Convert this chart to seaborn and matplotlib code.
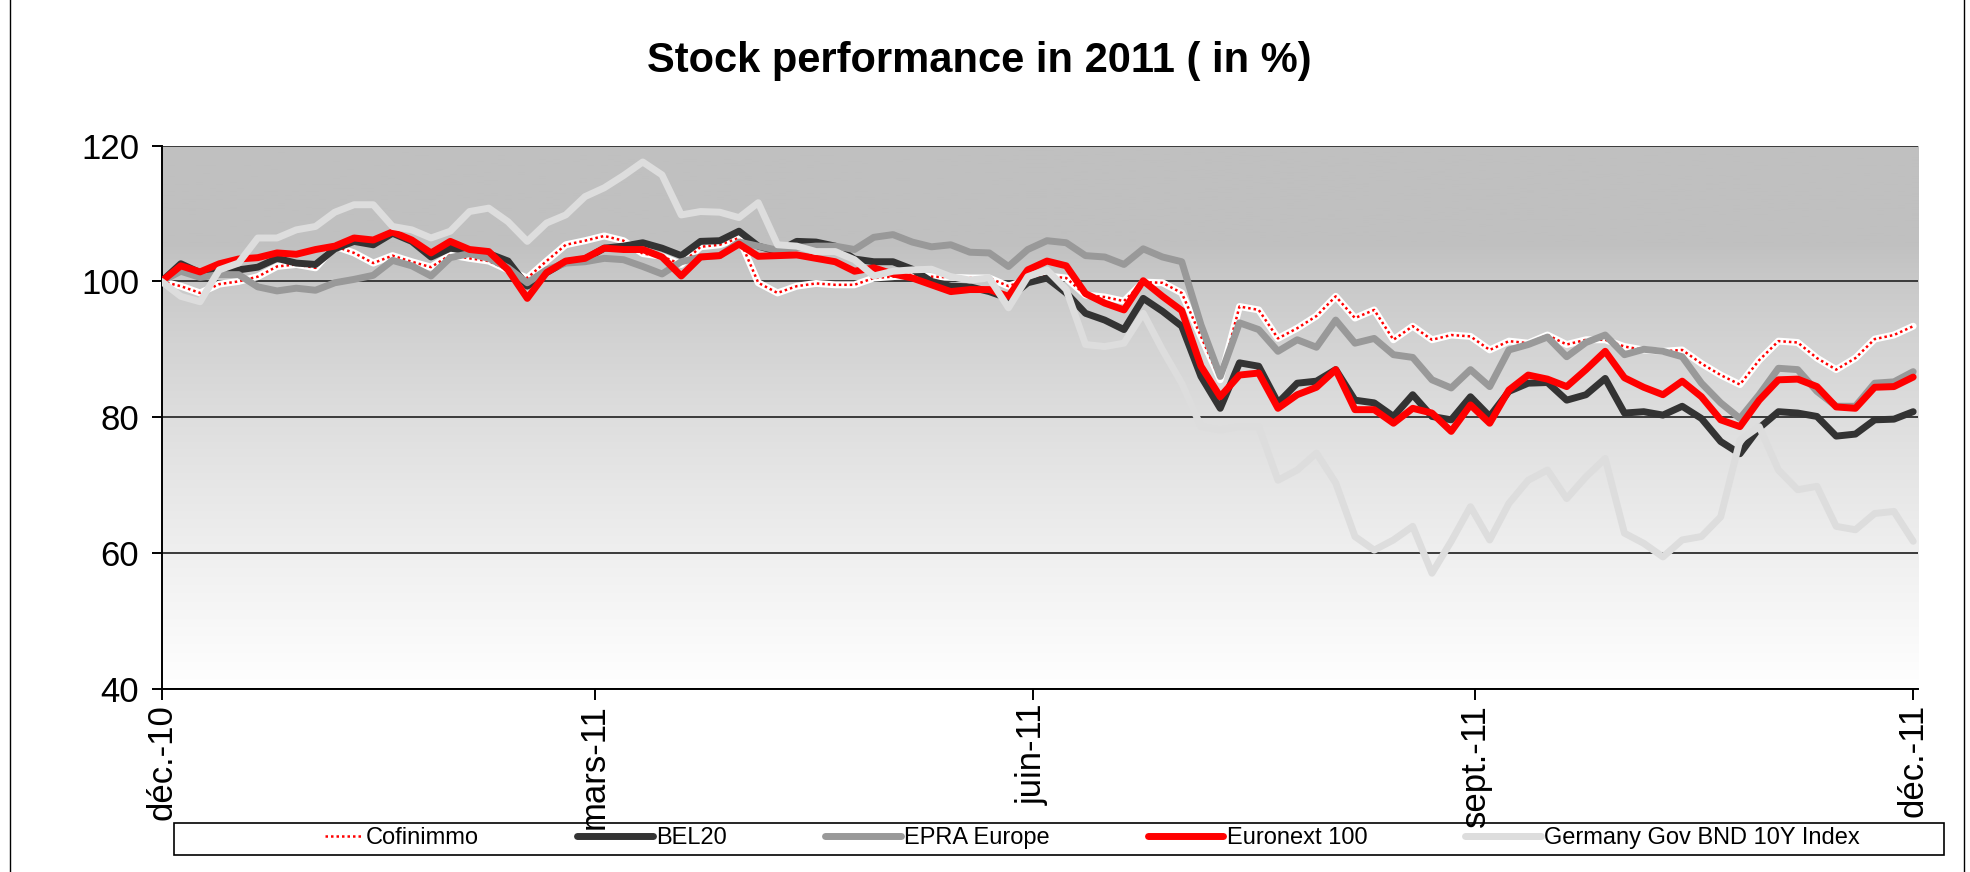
import matplotlib
matplotlib.use("Agg")
import numpy as np
import pandas as pd
import matplotlib.pyplot as plt
from matplotlib.lines import Line2D
from matplotlib.patches import Rectangle
from matplotlib.legend_handler import HandlerTuple
import seaborn as sns

# ─── DATA (one point every 4 days from 31/12/2010) ───────────────────────────
START = "2010-12-31"
STEP = "4D"

cofinimmo = [100, 99.3, 98.3, 99.6, 100.0, 100.7, 102.2, 102.5, 102.0, 105.2, 104.2, 102.7, 103.8, 102.9, 102.1, 103.9,
             103.4, 103.0, 101.7, 100.5, 103.0, 105.4, 106.0, 106.7, 106.0, 104.1, 103.7, 102.5, 105.1, 105.4, 106.4,
             99.8, 98.3, 99.3, 99.7, 99.5, 99.5, 100.5, 100.7, 101.0, 100.7, 100.6, 100.5, 100.5, 99.3, 100.3,
             100.8, 100.5, 98.0, 97.7, 97.1, 99.9, 99.8, 98.3, 91.9, 85.5, 96.3, 95.8, 91.6, 93.1, 94.9, 97.8,
             94.6, 95.8, 91.4, 93.4, 91.4, 92.1, 91.9, 89.9, 91.2, 90.9, 92.1, 90.7, 91.4, 91.4, 90.4,
             89.9, 89.7, 89.9, 87.9, 86.2, 84.8, 88.4, 91.2, 91.0, 88.7, 87.0, 88.7, 91.5, 92.1, 93.4]

bel20 = [100, 102.6, 101.3, 101.5, 101.7, 102.1, 103.4, 102.7, 102.5, 104.8, 105.9, 105.4, 107.1, 105.9, 103.6, 104.9,
         104.5, 104.1, 103.0, 99.3, 101.3, 102.9, 103.3, 104.9, 105.2, 105.7, 104.9, 103.8, 105.9, 106.0, 107.4,
         105.2, 104.4, 105.9, 105.8, 105.2, 103.3, 102.9, 102.9, 101.8, 100.0, 99.3, 99.2, 98.5, 97.5, 99.8,
         100.5, 98.3, 95.3, 94.3, 92.9, 97.5, 95.6, 93.4, 86.0, 81.3, 88.0, 87.5, 82.1, 85.0, 85.3, 87.0,
         82.5, 82.1, 80.1, 83.3, 80.1, 79.6, 83.0, 80.1, 83.8, 85.0, 85.1, 82.5, 83.3, 85.7, 80.6,
         80.8, 80.3, 81.6, 79.8, 76.4, 74.6, 78.4, 80.8, 80.6, 80.1, 77.2, 77.5, 79.6, 79.7, 80.8]

epra = [100, 101.5, 100.6, 101.0, 101.0, 99.2, 98.6, 99.0, 98.7, 99.8, 100.3, 100.9, 103.1, 102.3, 100.8, 103.5,
        104.1, 103.4, 102.0, 99.8, 101.7, 102.7, 102.9, 103.4, 103.2, 102.2, 101.1, 102.9, 103.6, 103.8, 105.8,
        105.2, 104.6, 105.0, 105.2, 105.2, 104.7, 106.5, 106.9, 105.8, 105.1, 105.4, 104.3, 104.2, 102.2, 104.7,
        106.0, 105.7, 103.8, 103.6, 102.5, 104.8, 103.6, 102.9, 93.6, 86.0, 93.9, 92.9, 89.7, 91.4, 90.3, 94.3,
        90.9, 91.6, 89.2, 88.8, 85.5, 84.3, 87.0, 84.5, 89.9, 90.7, 91.8, 88.9, 91.0, 92.1, 89.2,
        90.0, 89.7, 88.9, 85.0, 82.1, 79.8, 83.3, 87.2, 87.0, 83.8, 81.6, 81.6, 85.0, 85.2, 86.7]

euronext = [100, 102.3, 101.4, 102.6, 103.3, 103.5, 104.2, 104.0, 104.7, 105.2, 106.4, 106.1, 107.3, 106.1, 104.2, 105.9,
            104.7, 104.4, 101.7, 97.5, 101.3, 103.0, 103.4, 104.9, 104.7, 104.7, 103.6, 100.8, 103.6, 103.8, 105.5,
            103.7, 103.8, 103.9, 103.4, 102.9, 101.5, 102.0, 101.1, 100.5, 99.5, 98.5, 98.8, 98.8, 97.8, 101.7,
            103.0, 102.3, 98.2, 96.8, 95.8, 100.1, 97.8, 95.7, 87.5, 83.0, 86.2, 86.5, 81.3, 83.3, 84.4, 87.0,
            81.1, 81.1, 79.1, 81.3, 80.6, 77.9, 81.8, 79.1, 84.0, 86.2, 85.6, 84.5, 87.0, 89.7, 85.8,
            84.4, 83.3, 85.3, 83.0, 79.6, 78.6, 82.5, 85.5, 85.6, 84.5, 81.5, 81.3, 84.4, 84.5, 85.9]

bund = [100, 97.8, 97.0, 101.7, 102.7, 106.4, 106.4, 107.6, 108.1, 110.2, 111.3, 111.3, 108.1, 107.6, 106.4, 107.4,
        110.3, 110.8, 108.8, 105.9, 108.6, 109.8, 112.5, 113.8, 115.6, 117.6, 115.7, 109.8, 110.3, 110.2, 109.4,
        111.6, 105.4, 105.2, 104.4, 104.4, 103.2, 100.8, 101.5, 101.7, 101.8, 100.7, 100.2, 100.5, 96.1, 100.7,
        101.7, 98.8, 90.7, 90.4, 90.9, 95.3, 89.9, 85.0, 78.6, 78.1, 78.6, 78.6, 70.7, 72.2, 74.7, 70.3,
        62.4, 60.4, 61.9, 63.9, 57.0, 61.7, 66.8, 61.9, 67.3, 70.7, 72.2, 68.0, 71.2, 73.9, 62.9,
        61.4, 59.4, 61.9, 62.4, 65.3, 76.6, 78.6, 72.2, 69.3, 69.8, 63.9, 63.4, 65.8, 66.1, 61.7]

series_names = ["Cofinimmo", "BEL20", "EPRA Europe", "Euronext 100", "Germany Gov BND 10Y Index"]
tick_dates = ["2010-12-31", "2011-03-31", "2011-06-30", "2011-09-30", "2011-12-30"]
tick_labels = ["déc.-10", "mars-11", "juin-11", "sept.-11", "déc.-11"]
y_ticks = [40, 60, 80, 100, 120]

COLORS = {
    "Cofinimmo": "#FFFFFF",
    "BEL20": "#333333",
    "EPRA Europe": "#999999",
    "Euronext 100": "#FF0000",
    "Germany Gov BND 10Y Index": "#DDDDDD",
}
LW = 5.0


def build_frame():
    dates = pd.date_range(START, periods=len(cofinimmo), freq=STEP)
    wide = pd.DataFrame({"date": dates,
                         "Cofinimmo": cofinimmo,
                         "BEL20": bel20,
                         "EPRA Europe": epra,
                         "Euronext 100": euronext,
                         "Germany Gov BND 10Y Index": bund})
    return wide, wide.melt(id_vars="date", var_name="series", value_name="value")


def main():
    sns.set_style("white")
    plt.rcParams["font.family"] = ["Liberation Sans", "DejaVu Sans"]
    plt.rcParams["text.color"] = "black"
    plt.rcParams["xtick.color"] = "black"
    plt.rcParams["ytick.color"] = "black"

    wide, long_df = build_frame()

    fig = plt.figure(figsize=(19.7, 8.72), dpi=100)
    ax = fig.add_axes([0.082, 0.2104, 0.8916, 0.6225])

    # gradient background (grey at top -> white at bottom)
    grad = np.linspace(0, 1, 256).reshape(-1, 1)
    shade = np.clip((grad - 0.18) / 0.82, 0, 1) ** 0.8
    vals = 192 + (255 - 192) * shade
    img = np.dstack([vals, vals, vals]) / 255.0
    ax.imshow(img[::-1], extent=[0, 1, 0, 1], transform=ax.transAxes,
              aspect="auto", zorder=0, origin="lower")

    sns.lineplot(data=long_df, x="date", y="value", hue="series",
                 hue_order=series_names, palette=COLORS, linewidth=LW,
                 legend=False, ax=ax, sort=False)
    for i, line in enumerate(ax.get_lines()):
        line.set_zorder(3 + i * 0.1)
        line.set_solid_capstyle("round")
        line.set_solid_joinstyle("round")

    # red dots on the white Cofinimmo band
    dotted = dict(color="#FF0000", lw=1.8, linestyle=(0, (1.0, 1.2)))
    ax.plot(wide["date"], wide["Cofinimmo"], zorder=3.05, **dotted)

    ax.set_ylim(40, 120)
    ax.set_xlim(pd.Timestamp("2010-12-31"), pd.Timestamp("2011-12-31"))
    ax.set_yticks(y_ticks)
    ax.set_xticks(pd.to_datetime(tick_dates))
    ax.set_xticklabels(tick_labels, rotation=90)
    ax.set_xlabel("")
    ax.set_ylabel("")

    ax.yaxis.grid(True, color="#3a3a3a", linewidth=1.4)
    ax.xaxis.grid(False)
    ax.set_axisbelow(True)
    for name in ("right", "top"):
        ax.spines[name].set_visible(False)
    for name in ("left", "bottom"):
        ax.spines[name].set_color("#000000")
        ax.spines[name].set_linewidth(1.4)

    ax.tick_params(axis="y", labelsize=25, length=7, width=1.4, direction="out", pad=9, left=True)
    ax.tick_params(axis="x", labelsize=25, length=8, width=1.4, direction="out", pad=3, bottom=True)

    fig.text(0.497, 0.93, "Stock performance in 2011 ( in %)", ha="center", va="center",
             fontsize=30, fontweight="bold")

    # legend
    handles = []
    for name in series_names:
        if name == "Cofinimmo":
            handles.append((Line2D([], [], color="#FFFFFF", lw=LW),
                            Line2D([], [], **dotted)))
        else:
            handles.append(Line2D([], [], color=COLORS[name], lw=LW))
    fig.legend(handles, series_names, loc="center", bbox_to_anchor=(0.545, 0.0385),
               ncol=5, frameon=False, fontsize=17, handlelength=3.2,
               handletextpad=0.15, columnspacing=4.15,
               handler_map={tuple: HandlerTuple(ndivide=None, pad=0)})
    fig.patches.append(Rectangle((174 / 1970, 17 / 872), 1770 / 1970, 32 / 872,
                                 transform=fig.transFigure, fill=False,
                                 edgecolor="#000000", lw=1.2))
    # outer chart border (top and bottom edges fall outside the canvas)
    fig.patches.append(Rectangle((10 / 1970, -0.01), 1954 / 1970, 1.03,
                                 transform=fig.transFigure, fill=False,
                                 edgecolor="#000000", lw=1.0))

    fig.savefig("out.png", dpi=100)


if __name__ == "__main__":
    main()
